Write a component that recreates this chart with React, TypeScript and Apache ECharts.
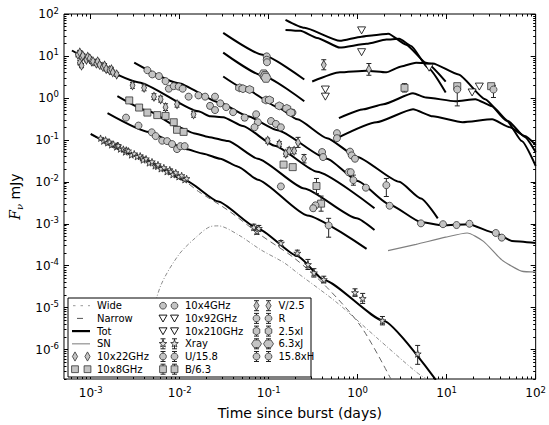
import React, { useEffect, useRef } from 'react';
import * as echarts from 'echarts';

// All points: [log10(t / days), log10(F / mJy), error (dex), upper error (dex, optional)]
const X_MIN = -3.3, X_MAX = 2;
const Y_MIN = -6.7, Y_MAX = 2;
const xMajor = [-3, -2, -1, 0, 1, 2];
const yMajor = [-6, -5, -4, -3, -2, -1, 0, 1, 2];

// ---- model curves ----
const wideLine = [[-2.456,-6.30],[-2.344,-5.47],[-2.214,-4.48],[-2.011,-3.74],[-1.826,-3.34],[-1.659,-3.07],[-1.567,-3.05],[-1.344,-3.26],[-1.089,-3.62],[-0.826,-3.93],[-0.678,-4.17],[-0.233,-4.88],[0.211,-5.71],[0.656,-6.53],[0.789,-6.72]];
const narrowLine = [[-3.0,-0.88],[-2.456,-1.43],[-1.933,-2.00],[-1.789,-2.23],[-1.456,-2.68],[-1.089,-3.27],[-0.711,-3.82],[-0.344,-4.52],[0.044,-5.47],[0.378,-6.72]];
const snLine = [[0.341,-3.64],[0.656,-3.49],[0.989,-3.32],[1.230,-3.22],[1.414,-3.42],[1.619,-3.86],[1.841,-4.13],[2.0,-4.15]];
const totXray = [[-3.0,-0.86],[-2.456,-1.40],[-1.933,-1.97],[-1.567,-2.47],[-1.122,-3.11],[-0.678,-3.77],[-0.378,-4.34],[0.289,-5.31],[0.878,-6.72]];
const totV = [[-3.211,1.13],[-2.456,0.37],[-1.789,-0.32],[-1.656,-0.44],[-1.511,-0.46],[-1.289,-0.67],[-0.933,-1.14],[-0.456,-1.76],[0.189,-2.63]];
const totR = [[-2.511,0.84],[-2.011,0.35],[-1.567,-0.10],[-1.233,-0.44],[-0.9,-0.77],[-0.344,-1.45],[0.0,-1.98],[0.356,-2.54],[0.711,-2.96],[0.956,-3.04],[1.244,-3.01],[1.544,-3.22],[1.733,-3.41],[2.0,-3.46]];
const totB = [[-2.7,0.04],[-2.344,-0.32],[-2.011,-0.70],[-1.844,-0.84],[-1.678,-0.93],[-1.456,-1.03],[-1.122,-1.45],[-0.6,-2.16],[-0.011,-2.87],[0.189,-3.15]];
const totU = [[-2.811,-0.36],[-2.344,-0.81],[-1.933,-1.22],[-1.733,-1.33],[-1.544,-1.45],[-1.344,-1.64],[-1.122,-1.95],[-0.567,-2.80],[0.1,-3.60]];
const totH = [[-1.511,1.55],[-1.067,1.03],[-0.6,0.44]];
const totJ = [[-1.511,1.08],[-1.067,0.53],[-0.6,-0.08]];
const totI = [[-1.511,0.51],[-1.233,0.18],[-0.9,-0.22],[-0.678,-0.51],[-0.344,-0.96],[-0.011,-1.40],[0.467,-2.00],[0.711,-2.40],[0.9,-2.87]];
const tot210 = [[-0.811,1.86],[-0.6,1.67],[-0.2,1.36],[0.044,1.46],[0.211,1.50],[0.344,1.53],[0.544,1.27],[0.767,0.84],[0.989,0.39]];
const tot92 = [[-0.811,1.62],[-0.644,1.60],[-0.456,1.43],[-0.2,1.20],[0.1,1.29],[0.322,1.39],[0.467,1.41],[0.6,1.24],[0.789,0.72],[0.989,0.13]];
const tot22 = [[-0.511,0.39],[-0.2,0.61],[0.1,0.65],[0.322,0.61],[0.489,0.75],[0.656,0.84],[0.844,0.82],[1.133,0.56],[1.433,-0.03],[1.678,-0.55],[1.844,-1.03],[2.0,-1.62]];
const tot8 = [[-0.211,-0.48],[0.067,-0.27],[0.289,-0.15],[0.622,0.11],[0.767,0.01],[1.1,-0.08],[1.322,-0.03],[1.511,-0.20],[1.689,-0.55],[1.878,-0.93],[2.0,-1.29]];
const tot4 = [[-0.233,-0.96],[0.211,-0.58],[0.622,-0.27],[0.844,-0.44],[1.178,-0.58],[1.511,-0.51],[1.711,-0.70],[1.878,-0.91],[2.0,-1.12]];

// ---- observations ----
const vData = [[-3.144,1.03,0.05],[-3.122,1.08,0.05],[-3.103,0.96,0.05],[-3.122,0.84,0.05],[-3.089,1.01,0.05],[-3.048,0.91,0.05],[-3.033,0.98,0.05],[-3.011,0.94,0.05],[-2.989,0.87,0.05],[-2.974,0.87,0.05],[-2.937,0.82,0.05],[-2.922,0.87,0.05],[-2.9,0.79,0.05],[-2.863,0.74,0.05],[-2.844,0.77,0.05],[-2.826,0.69,0.05],[-2.789,0.66,0.05],[-2.767,0.68,0.05],[-2.752,0.61,0.05],[-2.708,0.56,0.05],[-3.103,0.77,0.05],
  [-2.530,0.30,0.07],[-2.4,0.24,0.07],[-2.289,0.03,0.07],[-2.214,-0.03,0.07],[-2.159,-0.22,0.08],[-2.030,-0.15,0.07],[-1.844,-0.39,0.07],
  [-1.011,-1.02,0.06],[-0.881,-1.10,0.06],[-0.808,-1.33,0.07],[-0.770,-1.26,0.07],[-0.714,-1.26,0.07],[-0.670,-1.06,0.12],[-0.603,-1.45,0.1]];
const rData = [[-2.363,0.66,0.04],[-2.308,0.56,0.04],[-2.233,0.52,0.04],[-2.159,0.40,0.04],[-2.122,0.22,0.05],[-2.067,0.28,0.04],[-2.011,0.27,0.04],[-1.967,0.22,0.04],[-1.9,0.03,0.05],[-1.789,0.06,0.05],[-1.714,0.03,0.05],[-1.603,0.03,0.05],[-1.659,-0.19,0.06],[-1.603,-0.29,0.05],[-1.544,-0.13,0.05],[-1.478,-0.22,0.05],[-1.4,-0.34,0.05],[-1.270,-0.47,0.07],[-1.141,-0.39,0.05],[-1.122,-0.58,0.05],[-1.159,-0.70,0.05],[-0.974,-0.55,0.05],[-0.919,-0.62,0.05],[-0.863,-0.70,0.05],[-0.733,-0.35,0.06],
  [-0.4,-1.29,0.05],[-0.389,-1.41,0.05],[-0.086,-1.28,0.05],[-0.067,-1.37,0.05],[-0.03,-1.45,0.05],[-0.103,-1.77,0.05],[-0.078,-1.77,0.05],[-0.048,-1.96,0.12],[0.092,-2.14,0.05],[0.322,-2.08,0.27,0.16],[0.359,-2.57,0.05],[0.711,-2.99,0.04],[0.959,-3.01,0.04],[1.111,-3.03,0.04],[1.256,-3.00,0.04],[1.552,-3.22,0.04],[1.619,-3.33,0.04]];
const bData = [[-2.567,-0.06,0.04],[-2.456,-0.23,0.04],[-2.363,-0.35,0.04],[-2.252,-0.41,0.04],[-2.159,-0.43,0.04],[-2.067,-0.58,0.05],[-2.030,-0.76,0.05],[-1.956,-0.81,0.05],[-0.833,-1.59,0.05],[-0.730,-1.65,0.05],[-0.463,-2.10,0.18],[-0.411,-2.52,0.18]];
const uData = [[-2.603,-0.47,0.04],[-2.463,-0.66,0.04],[-2.314,-0.82,0.04],[-2.270,-0.91,0.04],[-2.197,-1.02,0.04],[-2.141,-1.03,0.04],[-2.086,-1.10,0.04],[-2.030,-1.22,0.05],[-1.992,-1.15,0.04],[-1.944,-1.15,0.04],[-0.863,-2.11,0.05],[-0.474,-2.56,0.06],[-0.5,-2.63,0.06],[-0.326,-3.04,0.28,0.17]];
const hData = [[-1.022,0.99,0.05],[-1.022,0.91,0.05],[-1.019,0.85,0.05]];
const jData = [[-1.056,0.56,0.04],[-1.041,0.52,0.04],[-1.030,0.48,0.04]];
const iData = [[-1.326,0.24,0.05],[-1.289,0.22,0.05],[-1.214,0.20,0.05],[-1.030,-0.05,0.05],[-0.992,-0.05,0.05],[-0.881,-0.19,0.05],[-0.797,-0.25,0.05],[-0.752,-0.35,0.05]];
const radio22 = [[-0.381,0.79,0.12],[0.126,0.68,0.14]];
const radio8 = [[0.526,0.24,0.1],[1.119,0.28,0],[1.5,0.28,0]];
const radio4 = [[1.119,0.20,0.39,0.08],[1.526,0.20,0.19,0.1],[-0.233,-0.84,0],[-0.233,-0.96,0]];
const radio92 = [[0.044,1.09],[-0.363,0.03],[1.286,0.13]];
const radio210 = [[0.044,1.61],[-0.363,0.20],[0.803,0.72],[1.367,0.27]];
const xrayEarly = [[-2.889,-0.96],[-2.856,-1.03],[-2.833,-1.00],[-2.811,-1.07],[-2.789,-1.05],[-2.767,-1.12],[-2.744,-1.10],[-2.711,-1.17],[-2.70,-1.13],[-2.689,-1.14],[-2.667,-1.22],[-2.633,-1.22],[-2.611,-1.29],[-2.60,-1.24],[-2.578,-1.26],[-2.544,-1.36],[-2.511,-1.33],[-2.478,-1.40],[-2.444,-1.38],[-2.42,-1.43],[-2.411,-1.48],[-2.378,-1.45],[-2.344,-1.55],[-2.311,-1.52],[-2.278,-1.62],[-2.25,-1.63],[-2.244,-1.59],[-2.211,-1.69],[-2.178,-1.66],[-2.144,-1.76],[-2.111,-1.71],[-2.10,-1.76],[-2.078,-1.83],[-2.044,-1.78],[-2.011,-1.88],[-1.978,-1.85],[-1.944,-1.95],[-1.922,-1.92]];
const xrayLate = [[-1.167,-3.08,0.07],[-1.133,-3.18,0.07],[-1.111,-3.11,0.07],[-0.863,-3.46,0.06],[-0.678,-3.70,0.07],[-0.559,-3.97,0.12],[-0.492,-4.17,0.1],[-0.381,-4.33,0.08],[-0.03,-4.64,0.09],[0.056,-4.78,0.12],[0.278,-5.31,0.1],[0.674,-6.10,0.25,0.2]];

// legend labels
const legendItems = [
  { col: 0, row: 0, label: 'Wide', kind: 'wide' },
  { col: 0, row: 1, label: 'Narrow', kind: 'narrow' },
  { col: 0, row: 2, label: 'Tot', kind: 'tot' },
  { col: 0, row: 3, label: 'SN', kind: 'sn' },
  { col: 0, row: 4, label: '10x22GHz', kind: 'diamond' },
  { col: 0, row: 5, label: '10x8GHz', kind: 'square' },
  { col: 1, row: 0, label: '10x4GHz', kind: 'circle' },
  { col: 1, row: 1, label: '10x92GHz', kind: 'tri' },
  { col: 1, row: 2, label: '10x210GHz', kind: 'tri' },
  { col: 1, row: 3, label: 'Xray', kind: 'star', err: true },
  { col: 1, row: 4, label: 'U/15.8', kind: 'circle', err: true },
  { col: 1, row: 5, label: 'B/6.3', kind: 'square', err: true },
  { col: 2, row: 0, label: 'V/2.5', kind: 'diamond', err: true },
  { col: 2, row: 1, label: 'R', kind: 'circle', err: true },
  { col: 2, row: 2, label: '2.5xI', kind: 'hex', err: true },
  { col: 2, row: 3, label: '6.3xJ', kind: 'hexw', err: true },
  { col: 2, row: 4, label: '15.8xH', kind: 'circle', err: true },
];

const FONT = 'DejaVu Sans';
const MF = '#c4c4c4';
const ME = '#333';

const SYM_STAR = 'path://M5,0L6.18,3.5L9.9,3.6L6.9,5.8L8.0,9.4L5,7.3L2.0,9.4L3.1,5.8L0.1,3.6L3.82,3.5Z';
const SYM_TRI = 'path://M0,0L10,0L5,9Z';
const SYM_HEX = 'path://M5,0L9.33,2.5L9.33,7.5L5,10L0.67,7.5L0.67,2.5Z';
const SYM_HEXW = 'path://M0,5L2.5,0.67L7.5,0.67L10,5L7.5,9.33L2.5,9.33Z';

function minorTicks(lo: number, hi: number) {
  const out: number[] = [];
  for (let n = Math.floor(lo) - 1; n <= Math.ceil(hi); n++) {
    for (let k = 2; k <= 9; k++) {
      const v = n + Math.log10(k);
      if (v > lo && v < hi) out.push(v);
    }
  }
  return out;
}

const supRich = {
  b: { fontSize: 12, fontFamily: FONT, color: '#000', lineHeight: 16 },
  s: { fontSize: 8.5, fontFamily: FONT, color: '#000', verticalAlign: 'top', lineHeight: 10 },
};
const supFmt = (v: number) => `{b|10}{s|${Math.round(v)}}`;

function axisX(position: string, major: boolean, labels: boolean, extra: any = {}) {
  return {
    type: 'value', min: X_MIN, max: X_MAX, position, gridIndex: 0,
    axisLine: { show: false, onZero: false },
    splitLine: { show: false },
    axisTick: { show: true, inside: true, length: major ? 5 : 2.5, customValues: major ? xMajor : minorTicks(X_MIN, X_MAX), lineStyle: { color: '#000', width: 1 } },
    axisLabel: labels ? { show: true, customValues: xMajor, formatter: supFmt, margin: 6, rich: supRich } : { show: false },
    ...extra,
  };
}
function axisY(position: string, major: boolean, labels: boolean, extra: any = {}) {
  return {
    type: 'value', min: Y_MIN, max: Y_MAX, position, gridIndex: 0,
    axisLine: { show: false, onZero: false },
    splitLine: { show: false },
    axisTick: { show: true, inside: true, length: major ? 5 : 2.5, customValues: major ? yMajor : minorTicks(Y_MIN, Y_MAX), lineStyle: { color: '#000', width: 1 } },
    axisLabel: labels ? { show: true, customValues: yMajor, formatter: supFmt, margin: 5, rich: supRich } : { show: false },
    ...extra,
  };
}

function totSeries(data: number[][]) {
  return { type: 'line', name: 'Tot', data, showSymbol: false, symbol: 'none', smooth: 0.18, smoothMonotone: 'x', lineStyle: { color: '#000', width: 2 }, z: 2, silent: true };
}
function scatter(name: string, data: number[][], symbol: string, size: any, fill = MF, stroke = ME) {
  return {
    type: 'scatter', name, data: data.map((d) => [d[0], d[1]]), symbol, symbolSize: size,
    itemStyle: { color: fill, borderColor: stroke, borderWidth: 0.8, opacity: 1 }, z: 4, silent: true,
  };
}

const errSource = [...vData, ...rData, ...bData, ...uData, ...hData, ...jData, ...iData, ...radio22, ...radio8, ...radio4, ...xrayLate]
  .filter((d) => (d[2] || 0) > 0)
  .map((d) => [d[0], d[1], d[2], d.length > 3 ? d[3] : d[2]]);

function legendMarker(kind: string, cx: number, cy: number): any[] {
  const st = { fill: MF, stroke: ME, lineWidth: 0.8 };
  if (kind === 'circle') return [{ type: 'circle', z: 101, shape: { cx, cy, r: 3.4 }, style: st }];
  if (kind === 'square') return [{ type: 'rect', z: 101, shape: { x: cx - 3.4, y: cy - 3.4, width: 6.8, height: 6.8 }, style: st }];
  if (kind === 'diamond') return [{ type: 'polygon', z: 101, shape: { points: [[cx, cy - 4.6], [cx + 2.6, cy], [cx, cy + 4.6], [cx - 2.6, cy]] }, style: st }];
  if (kind === 'tri') return [{ type: 'polygon', z: 101, shape: { points: [[cx - 4, cy - 3.3], [cx + 4, cy - 3.3], [cx, cy + 3.6]] }, style: { fill: '#fff', stroke: '#000', lineWidth: 0.9 } }];
  if (kind === 'hex' || kind === 'hexw') {
    const pts: number[][] = [];
    const rx = kind === 'hexw' ? 5 : 3.8, ry = kind === 'hexw' ? 4.4 : 4;
    for (let i = 0; i < 6; i++) {
      const a = (Math.PI / 3) * i + (kind === 'hexw' ? 0 : Math.PI / 6);
      pts.push([cx + rx * Math.cos(a), cy + ry * Math.sin(a)]);
    }
    return [{ type: 'polygon', z: 101, shape: { points: pts }, style: st }];
  }
  if (kind === 'star') {
    const pts: number[][] = [];
    for (let i = 0; i < 10; i++) {
      const r = i % 2 === 0 ? 4 : 1.7;
      const a = -Math.PI / 2 + (Math.PI / 5) * i;
      pts.push([cx + r * Math.cos(a), cy + r * Math.sin(a)]);
    }
    return [{ type: 'polygon', z: 101, shape: { points: pts }, style: { fill: '#ddd', stroke: '#222', lineWidth: 0.8 } }];
  }
  return [];
}
function legendErr(cx: number, cy: number): any[] {
  const s = { stroke: '#222', lineWidth: 1 };
  return [
    { type: 'line', z: 101, shape: { x1: cx, y1: cy - 5, x2: cx, y2: cy + 5 }, style: s },
    { type: 'line', z: 101, shape: { x1: cx - 2.5, y1: cy - 5, x2: cx + 2.5, y2: cy - 5 }, style: s },
    { type: 'line', z: 101, shape: { x1: cx - 2.5, y1: cy + 5, x2: cx + 2.5, y2: cy + 5 }, style: s },
  ];
}

function buildLegend(): any[] {
  const els: any[] = [];
  els.push({ type: 'rect', z: 100, shape: { x: 68, y: 298, width: 243, height: 79 }, style: { fill: '#fff', stroke: '#000', lineWidth: 1 } });
  const cols = [{ m: [75, 87.5], t: 97 }, { m: [163, 174.5], t: 185 }, { m: [256.5, 268.5], t: 278.5 }];
  legendItems.forEach((it: any) => {
    const c = cols[it.col];
    const y = 305.7 + it.row * 12.7;
    if (it.kind === 'wide') {
      els.push({ type: 'line', z: 101, shape: { x1: 73, y1: y, x2: 90, y2: y }, style: { stroke: '#999', lineWidth: 1, lineDash: [2.5, 5] } });
    } else if (it.kind === 'narrow') {
      els.push({ type: 'line', z: 101, shape: { x1: 77, y1: y, x2: 83, y2: y }, style: { stroke: '#555', lineWidth: 1 } });
    } else if (it.kind === 'tot') {
      els.push({ type: 'line', z: 101, shape: { x1: 72, y1: y, x2: 90, y2: y }, style: { stroke: '#000', lineWidth: 2.2 } });
    } else if (it.kind === 'sn') {
      els.push({ type: 'line', z: 101, shape: { x1: 72, y1: y, x2: 90, y2: y }, style: { stroke: '#999', lineWidth: 1.3 } });
    } else {
      c.m.forEach((mx) => {
        if (it.err) els.push(...legendErr(mx, y));
        els.push(...legendMarker(it.kind, mx, y));
      });
    }
    els.push({ type: 'text', z: 101, x: c.t, y, style: { text: it.label, fontSize: 10, fontFamily: FONT, fill: '#000', verticalAlign: 'middle', align: 'left' } });
  });
  return els;
}

function renderErr(params: any, api: any) {
  const t = api.value(0), f = api.value(1), e = api.value(2);
  let eu = api.value(3);
  if (typeof eu !== 'number' || isNaN(eu)) eu = e;
  if (!(e > 0)) return null;
  const lo = api.coord([t, f - e]);
  const hi = api.coord([t, f + eu]);
  const w = 2.5;
  const s = { stroke: '#222', lineWidth: 1 };
  return {
    type: 'group',
    children: [
      { type: 'line', shape: { x1: lo[0], y1: lo[1], x2: hi[0], y2: hi[1] }, style: s },
      { type: 'line', shape: { x1: lo[0] - w, y1: lo[1], x2: lo[0] + w, y2: lo[1] }, style: s },
      { type: 'line', shape: { x1: hi[0] - w, y1: hi[1], x2: hi[0] + w, y2: hi[1] }, style: s },
    ],
  };
}

export default function App() {
  const ref = useRef<HTMLDivElement>(null);
  useEffect(() => {
    if (!ref.current) return;
    const chart = echarts.init(ref.current, null, { renderer: 'svg' });
    const option: any = {
      animation: false,
      backgroundColor: '#fff',
      textStyle: { fontFamily: FONT },
      grid: { left: 64, right: 8, top: 14, bottom: 43, show: true, borderColor: '#000', borderWidth: 1, backgroundColor: 'transparent' },
      xAxis: [
        axisX('bottom', true, true, {
          name: 'Time since burst (days)', nameLocation: 'middle', nameGap: 27,
          nameTextStyle: { fontSize: 14, fontFamily: FONT, color: '#000' },
        }),
        axisX('bottom', false, false),
        axisX('top', true, false),
        axisX('top', false, false),
      ],
      yAxis: [
        axisY('left', true, true, {
          name: '{i|F}{s|ν} mJy', nameLocation: 'middle', nameGap: 38, nameRotate: 90,
          nameTextStyle: {
            fontSize: 14, fontFamily: FONT, color: '#000',
            rich: {
              i: { fontSize: 14, fontFamily: 'DejaVu Serif', fontStyle: 'italic', color: '#000', lineHeight: 18 },
              s: { fontSize: 10, fontFamily: 'DejaVu Serif', fontStyle: 'italic', color: '#000', verticalAlign: 'bottom', lineHeight: 18 },
            },
          },
        }),
        axisY('left', false, false),
        axisY('right', true, false),
        axisY('right', false, false),
      ],
      graphic: { elements: buildLegend() },
      series: [
        { type: 'line', name: 'Wide', data: wideLine, showSymbol: false, symbol: 'none', smooth: 0.3, lineStyle: { color: '#8c8c8c', width: 1, type: [4, 2, 1, 2] }, z: 2, silent: true },
        { type: 'line', name: 'Narrow', data: narrowLine, showSymbol: false, symbol: 'none', smooth: 0.3, lineStyle: { color: '#666', width: 1, type: [6, 4] }, z: 2, silent: true },
        { type: 'line', name: 'SN', data: snLine, showSymbol: false, symbol: 'none', smooth: 0.2, lineStyle: { color: '#808080', width: 1.2 }, z: 2, silent: true },
        totSeries(totXray), totSeries(totV), totSeries(totR), totSeries(totB), totSeries(totU),
        totSeries(totH), totSeries(totJ), totSeries(totI),
        totSeries(tot210), totSeries(tot92), totSeries(tot22), totSeries(tot8), totSeries(tot4),
        { type: 'custom', name: 'errorbars', data: errSource, dimensions: ['t', 'f', 'e', 'eu'], encode: { x: 0, y: 1 }, renderItem: renderErr, z: 3, silent: true, clip: true },
        scatter('Xray', xrayEarly, SYM_STAR, 6.5, '#ddd', '#222'),
        scatter('Xray', xrayLate, SYM_STAR, 7, '#ddd', '#222'),
        scatter('V/2.5', vData, 'diamond', [5, 9]),
        scatter('R', rData, 'circle', 7),
        scatter('B/6.3', bData, 'rect', 7),
        scatter('U/15.8', uData, 'circle', 7),
        scatter('15.8xH', hData, 'circle', 7),
        scatter('6.3xJ', jData, SYM_HEXW, [10, 9]),
        scatter('2.5xI', iData, SYM_HEX, 8),
        scatter('10x22GHz', radio22, 'diamond', [5, 9]),
        scatter('10x8GHz', radio8, 'rect', 7),
        scatter('10x4GHz', radio4, 'circle', 7),
        scatter('10x92GHz', radio92, SYM_TRI, [8, 7], '#fff', '#000'),
        scatter('10x210GHz', radio210, SYM_TRI, [8, 7], '#fff', '#000'),
      ],
    };
    chart.setOption(option);
    return () => chart.dispose();
  }, []);
  return <div ref={ref} style={{ position: 'fixed', left: 0, top: 0, width: 549, height: 425, background: '#fff' }} />;
}
